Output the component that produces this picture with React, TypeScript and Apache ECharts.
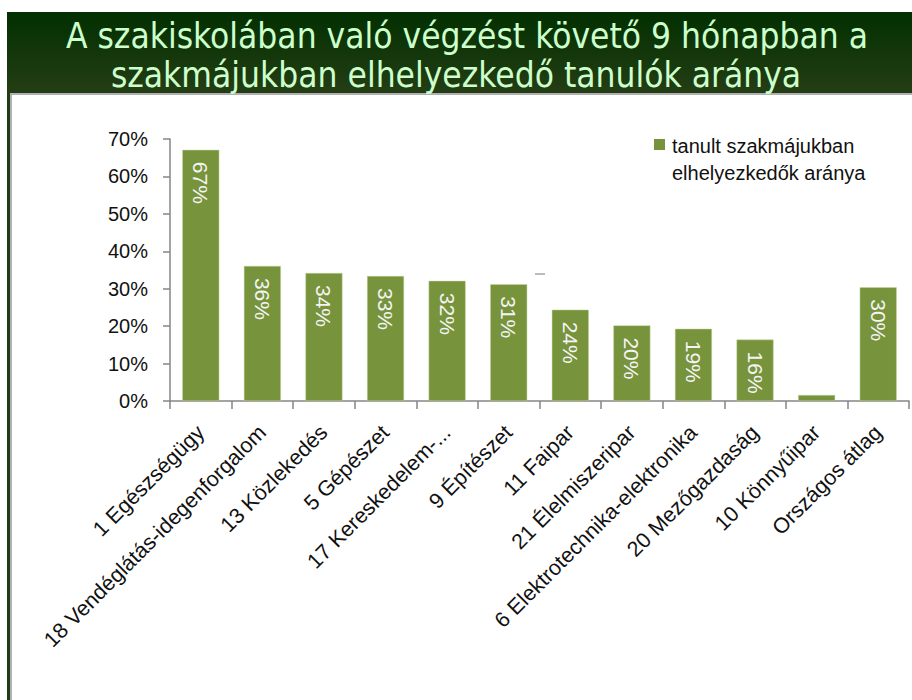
import React, { useEffect, useRef } from "react";
import * as echarts from "echarts";

const titleLines = [
  "A szakiskolában való végzést követő 9 hónapban a",
  "szakmájukban elhelyezkedő tanulók aránya",
];
const categories = [
  "1 Egészségügy",
  "18 Vendéglátás-idegenforgalom",
  "13 Közlekedés",
  "5 Gépészet",
  "17 Kereskedelem-...",
  "9 Építészet",
  "11 Faipar",
  "21 Élelmiszeripar",
  "6 Elektrotechnika-elektronika",
  "20 Mezőgazdaság",
  "10 Könnyűipar",
  "Országos átlag",
];
const values = [0.671, 0.361, 0.342, 0.334, 0.321, 0.312, 0.244, 0.202, 0.193, 0.164, 0.016, 0.304];
const seriesName = "tanult szakmájukban\nelhelyezkedők aránya";
const yTicks = [0, 0.1, 0.2, 0.3, 0.4, 0.5, 0.6, 0.7];

const BAR = "#77933c";
const FONT = "'Liberation Sans', Arial, sans-serif";

export default function App() {
  const ref = useRef<HTMLDivElement>(null);
  useEffect(() => {
    if (!ref.current) return;
    const chart = echarts.init(ref.current, null, { renderer: "svg" });
    chart.setOption({
      animation: false,
      backgroundColor: "#ffffff",
      graphic: [
        {
          type: "rect",
          left: 7,
          top: 12,
          shape: { width: 905, height: 81 },
          style: {
            fill: new echarts.graphic.LinearGradient(0, 0, 0, 1, [
              { offset: 0, color: "#023000" },
              { offset: 1, color: "#243d15" },
            ]),
          },
          z: 0,
        },
        {
          type: "rect",
          left: 7,
          top: 92,
          shape: { width: 3, height: 608 },
          style: { fill: "#1f3d12" },
        },
        {
          type: "rect",
          left: 10,
          top: 93,
          shape: { width: 2, height: 607 },
          style: { fill: "#b0b0b0" },
        },
        {
          type: "rect",
          left: 10,
          top: 93,
          shape: { width: 902, height: 2 },
          style: { fill: "#b0b0b0" },
        },
        {
          type: "text",
          x: 467,
          y: 36,
          style: {
            text: titleLines[0],
            fill: "#ccffcc",
            font: "35px 'DejaVu Sans Condensed', 'DejaVu Sans', sans-serif",
            align: "center",
            verticalAlign: "middle",
          },
        },
        {
          type: "text",
          x: 456,
          y: 75,
          style: {
            text: titleLines[1],
            fill: "#ccffcc",
            font: "35px 'DejaVu Sans Condensed', 'DejaVu Sans', sans-serif",
            align: "center",
            verticalAlign: "middle",
          },
        },
        {
          type: "rect",
          left: 654,
          top: 139,
          shape: { width: 11, height: 11 },
          style: { fill: BAR },
        },
        {
          type: "line",
          shape: { x1: 535, y1: 274, x2: 545, y2: 274 },
          style: { stroke: "#bbbbbb", lineWidth: 2 },
        },
      ],
      legend: {
        show: true,
        left: 660,
        top: 127,
        itemWidth: 1,
        itemHeight: 1,
        itemGap: 8,
        textStyle: { fontFamily: FONT, fontSize: 20, color: "#111", lineHeight: 27 },
        data: [{ name: seriesName, icon: "rect", itemStyle: { opacity: 0 } }],
      },
      grid: { left: 170, right: 3, top: 139, bottom: 299, containLabel: false },
      xAxis: {
        type: "category",
        data: categories,
        axisLine: { lineStyle: { color: "#868686", width: 1.5 } },
        axisTick: { show: true, length: 8, lineStyle: { color: "#868686", width: 1.5 } },
        axisLabel: {
          interval: 0,
          rotate: 45,
          fontFamily: FONT,
          fontSize: 21.5,
          color: "#111",
          margin: 28,
        },
      },
      yAxis: {
        type: "value",
        min: 0,
        max: 0.7,
        interval: 0.1,
        splitLine: { show: false },
        axisLine: { show: true, lineStyle: { color: "#868686", width: 1.5 } },
        axisTick: { show: true, length: 7, lineStyle: { color: "#868686", width: 1.5 } },
        axisLabel: {
          fontFamily: FONT,
          fontSize: 20,
          color: "#111",
          margin: 22,
          formatter: (v: number) => {
            const t = yTicks.find((x) => Math.abs(x - v) < 1e-9);
            return Math.round((t ?? v) * 100) + "%";
          },
        },
      },
      series: [
        {
          name: seriesName,
          type: "bar",
          data: values,
          barWidth: 37,
          itemStyle: { color: BAR, borderColor: "#c4d6a0", borderWidth: 0.5 },
          label: {
            show: true,
            position: "insideTop",
            rotate: -90,
            align: "left",
            verticalAlign: "middle",
            distance: 12,
            fontFamily: FONT,
            fontSize: 21,
            color: "#f4f4f4",
            formatter: (p: any) => (p.value < 0.05 ? "" : Math.round(p.value * 100) + "%"),
          },
        },
      ],
    });
    return () => chart.dispose();
  }, []);
  return (
    <div
      ref={ref}
      style={{ position: "fixed", left: 0, top: 0, width: 912, height: 700 }}
    />
  );
}
